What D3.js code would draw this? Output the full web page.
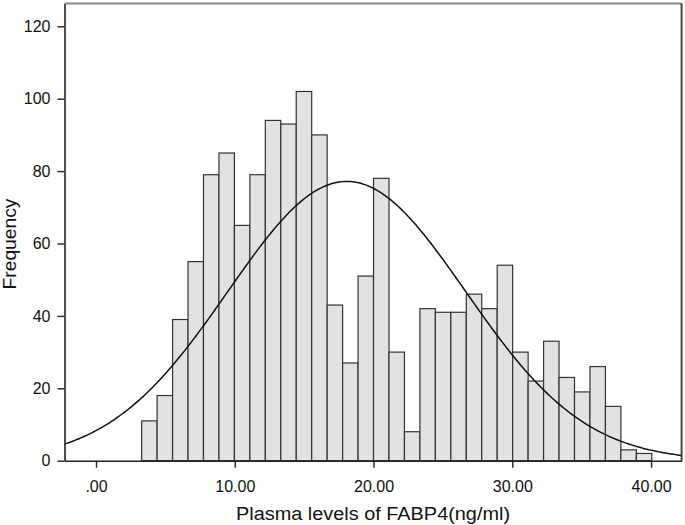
<!DOCTYPE html>
<html>
<head>
<meta charset="utf-8">
<script src="https://cdn.jsdelivr.net/npm/d3@7"></script>
<style>
  html, body { margin: 0; padding: 0; background: #fff; }
  svg text { font-family: Arial, "Liberation Sans", sans-serif; fill: #111; }
</style>
</head>
<body>
<svg id="chart" width="685" height="525"></svg>
<script>
// ---- data ----
const frequencies = [11, 18, 39, 55, 79, 85, 65, 79, 94, 93, 102, 90, 43, 27, 51, 78, 30, 8,
                     42, 41, 41, 46, 42, 54, 30, 22, 33, 23, 19, 26, 15, 3, 2];
const binStart = 3.29;      // left edge of first bin (ng/ml)
const binWidth = 1.114;     // bin width (ng/ml)
const fitMean = 18.07;      // normal curve mean
const fitSD = 8.56;         // normal curve standard deviation
const xTicks = [0, 10, 20, 30, 40];
const yTicks = [0, 20, 40, 60, 80, 100, 120];
const xDomain = [-2.27, 42.2];
const yDomain = [0, 126.3];
const xTitle = "Plasma levels of FABP4(ng/ml)";
const yTitle = "Frequency";

// ---- layout ----
const svg = d3.select("#chart");
const mLeft = 64.5, mRight = 681.6, mTop = 3.5, mBottom = 460.7;

const x = d3.scaleLinear().domain(xDomain).range([mLeft, mRight]);
const y = d3.scaleLinear().domain(yDomain).range([mBottom, mTop]);

const bins = frequencies.map((f, i) => ({
  x0: binStart + i * binWidth,
  x1: binStart + (i + 1) * binWidth,
  f
}));
const total = d3.sum(frequencies);

// bars
svg.append("g").selectAll("rect").data(bins).join("rect")
  .attr("x", d => x(d.x0))
  .attr("y", d => y(d.f))
  .attr("width", d => x(d.x1) - x(d.x0))
  .attr("height", d => y(0) - y(d.f))
  .attr("fill", "#e2e2e2")
  .attr("stroke", "#333")
  .attr("stroke-width", 1.2);

// normal curve
const pdf = v => Math.exp(-0.5 * ((v - fitMean) / fitSD) ** 2) / (fitSD * Math.sqrt(2 * Math.PI));
const curvePts = d3.range(0, 301).map(i => {
  const v = xDomain[0] + (xDomain[1] - xDomain[0]) * i / 300;
  return [v, total * binWidth * pdf(v)];
});
svg.append("path")
  .attr("d", d3.line().x(d => x(d[0])).y(d => y(d[1]))(curvePts))
  .attr("fill", "none")
  .attr("stroke", "#111")
  .attr("stroke-width", 1.5);

// frame (top and right)
svg.append("line").attr("x1", mLeft).attr("x2", mRight).attr("y1", mTop).attr("y2", mTop)
  .attr("stroke", "#888").attr("stroke-width", 2);
svg.append("line").attr("x1", mRight).attr("x2", mRight).attr("y1", mTop).attr("y2", mBottom)
  .attr("stroke", "#444").attr("stroke-width", 2);

// axes
const yAxis = d3.axisLeft(y).tickValues(yTicks).tickSize(7).tickSizeOuter(0).tickPadding(7)
  .tickFormat(d => String(d));
const gy = svg.append("g").attr("transform", `translate(${mLeft},0)`).call(yAxis);

const xAxis = d3.axisBottom(x).tickValues(xTicks).tickSize(7).tickSizeOuter(0).tickPadding(13)
  .tickFormat(d => d === 0 ? ".00" : d.toFixed(2));
const gx = svg.append("g").attr("transform", `translate(0,${mBottom})`).call(xAxis);

[gx, gy].forEach(g => {
  g.select(".domain").attr("stroke", "#222").attr("stroke-width", 1.6);
  g.selectAll(".tick line").attr("stroke", "#222").attr("stroke-width", 1.4);
  g.selectAll(".tick text").attr("font-size", 16).attr("fill", "#111")
    .attr("font-family", 'Arial, "Liberation Sans", sans-serif');
});

// titles
svg.append("text")
  .attr("x", (mLeft + mRight) / 2).attr("y", 520)
  .attr("text-anchor", "middle").attr("font-size", 18)
  .attr("textLength", 274).attr("lengthAdjust", "spacingAndGlyphs")
  .text(xTitle);
svg.append("text")
  .attr("transform", `translate(16,${244}) rotate(-90)`)
  .attr("text-anchor", "middle").attr("font-size", 18)
  .attr("textLength", 91).attr("lengthAdjust", "spacingAndGlyphs")
  .text(yTitle);
</script>
</body>
</html>
